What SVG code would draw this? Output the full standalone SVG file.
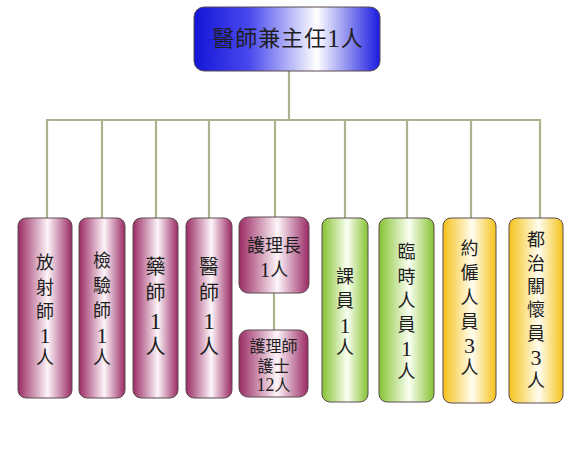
<svg xmlns="http://www.w3.org/2000/svg" width="576" height="470" viewBox="0 0 576 470">
<defs>
<linearGradient id="gBlue" x1="0" y1="0" x2="1" y2="0">
<stop offset="0" stop-color="#1414d8"/>
<stop offset="0.3" stop-color="#4a4aee"/>
<stop offset="0.66" stop-color="#ffffff"/>
<stop offset="1" stop-color="#1a1ae0"/>
</linearGradient>
<linearGradient id="gPurple" x1="0" y1="0" x2="1" y2="0">
<stop offset="0" stop-color="#9a2a64"/>
<stop offset="0.55" stop-color="#fdf5f9"/>
<stop offset="1" stop-color="#9a2a64"/>
</linearGradient>
<linearGradient id="gGreen" x1="0" y1="0" x2="1" y2="0">
<stop offset="0" stop-color="#86c232"/>
<stop offset="0.55" stop-color="#fafff2"/>
<stop offset="1" stop-color="#86c232"/>
</linearGradient>
<linearGradient id="gYellow" x1="0" y1="0" x2="1" y2="0">
<stop offset="0" stop-color="#f5c21a"/>
<stop offset="0.55" stop-color="#fffdf0"/>
<stop offset="1" stop-color="#f5c21a"/>
</linearGradient>
</defs>
<style>
.box{stroke:#5a4a50;stroke-width:1}
.p{fill:url(#gPurple)}
.g{fill:url(#gGreen)}
.y{fill:url(#gYellow)}
.t{font-family:"Liberation Serif","Noto Sans CJK TC",serif;fill:#1e1e1e;text-anchor:middle;dominant-baseline:central}
.v{font-size:18px}
.d{font-size:22px}
.conn{stroke:#a9b48c;stroke-width:2.2;fill:none}
</style>
<rect width="576" height="470" fill="#ffffff"/>
<g id="connectors" class="conn">
<line x1="289" y1="71" x2="289" y2="120"/>
<line x1="46" y1="120" x2="541" y2="120"/>
<line x1="47" y1="119" x2="47" y2="218"/>
<line x1="102" y1="119" x2="102" y2="218"/>
<line x1="156" y1="119" x2="156" y2="218"/>
<line x1="209" y1="119" x2="209" y2="218"/>
<line x1="275" y1="119" x2="275" y2="217"/>
<line x1="345" y1="119" x2="345" y2="218"/>
<line x1="407" y1="119" x2="407" y2="218"/>
<line x1="471" y1="119" x2="471" y2="218"/>
<line x1="540" y1="119" x2="540" y2="218"/>
<line x1="274" y1="293" x2="274" y2="330"/>
</g>
<g id="n-top">
<rect class="box" x="194" y="7" width="186" height="64" rx="10" fill="url(#gBlue)"/>
<text class="t" x="288" y="38" font-size="22" letter-spacing="1">醫師兼主任<tspan font-size="25">1</tspan>人</text>
</g>
<g id="n-radiology">
<rect class="box p" x="18" y="218" width="54" height="180" rx="8"/>
<text class="t v"><tspan x="45" y="263">放</tspan><tspan x="45" y="288">射</tspan><tspan x="45" y="312">師</tspan><tspan class="d" x="45" y="335">1</tspan><tspan x="45" y="358">人</tspan></text>
</g>
<g id="n-lab">
<rect class="box p" x="79" y="218" width="46" height="180" rx="8"/>
<text class="t v"><tspan x="102" y="261">檢</tspan><tspan x="102" y="286">驗</tspan><tspan x="102" y="311">師</tspan><tspan class="d" x="102" y="335">1</tspan><tspan x="102" y="358">人</tspan></text>
</g>
<g id="n-pharm">
<rect class="box p" x="133" y="218" width="45" height="180" rx="8"/>
<text class="t" font-size="20"><tspan x="155.5" y="267">藥</tspan><tspan x="155.5" y="293">師</tspan><tspan x="155.5" y="321" font-size="24">1</tspan><tspan x="155.5" y="347">人</tspan></text>
</g>
<g id="n-doctor">
<rect class="box p" x="186" y="218" width="46" height="180" rx="8"/>
<text class="t" font-size="20"><tspan x="209" y="267">醫</tspan><tspan x="209" y="293">師</tspan><tspan x="209" y="321" font-size="24">1</tspan><tspan x="209" y="347">人</tspan></text>
</g>
<g id="n-headnurse">
<rect class="box p" x="239" y="217" width="70" height="76" rx="9"/>
<text class="t" font-size="18"><tspan x="274" y="246">護理長</tspan><tspan x="274" y="270"><tspan font-size="21">1</tspan>人</tspan></text>
</g>
<g id="n-nurses">
<rect class="box p" x="239" y="330" width="69" height="67" rx="9"/>
<text class="t" font-size="16"><tspan x="273.5" y="346">護理師</tspan><tspan x="273.5" y="366">護士</tspan><tspan x="273.5" y="385"><tspan font-size="18">12</tspan>人</tspan></text>
</g>
<g id="n-clerk">
<rect class="box g" x="322" y="218" width="46" height="184" rx="8"/>
<text class="t v"><tspan x="345" y="277">課</tspan><tspan x="345" y="301">員</tspan><tspan class="d" x="345" y="325">1</tspan><tspan x="345" y="348">人</tspan></text>
</g>
<g id="n-temp">
<rect class="box g" x="379" y="218" width="55" height="184" rx="8"/>
<text class="t v"><tspan x="406.5" y="252">臨</tspan><tspan x="406.5" y="277">時</tspan><tspan x="406.5" y="301">人</tspan><tspan x="406.5" y="325">員</tspan><tspan class="d" x="406.5" y="348">1</tspan><tspan x="406.5" y="372">人</tspan></text>
</g>
<g id="n-contract">
<rect class="box y" x="443" y="218" width="53" height="185" rx="8"/>
<text class="t v"><tspan x="469.5" y="249">約</tspan><tspan x="469.5" y="273">僱</tspan><tspan x="469.5" y="298">人</tspan><tspan x="469.5" y="322">員</tspan><tspan class="d" x="469.5" y="345">3</tspan><tspan x="469.5" y="368">人</tspan></text>
</g>
<g id="n-care">
<rect class="box y" x="509" y="218" width="54" height="185" rx="8"/>
<text class="t v"><tspan x="536" y="240">都</tspan><tspan x="536" y="264">治</tspan><tspan x="536" y="287">關</tspan><tspan x="536" y="310">懷</tspan><tspan x="536" y="334">員</tspan><tspan class="d" x="536" y="357">3</tspan><tspan x="536" y="381">人</tspan></text>
</g>
</svg>
